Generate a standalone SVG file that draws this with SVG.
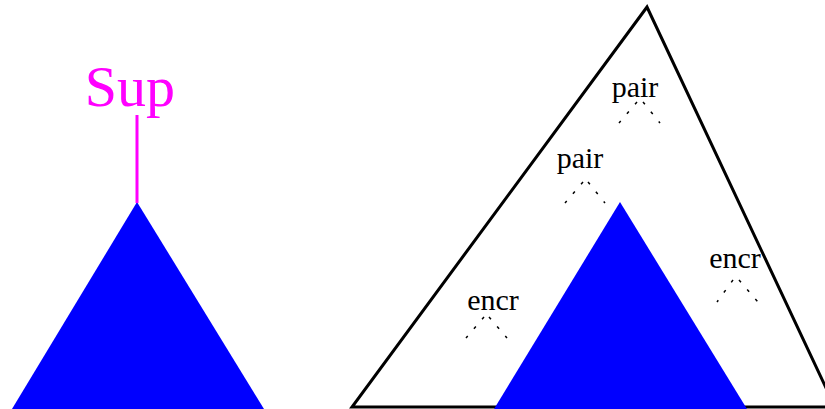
<svg xmlns="http://www.w3.org/2000/svg" width="825" height="409" viewBox="0 0 825 409">
<style>
.lbl{font-family:"Liberation Serif","Times New Roman",serif;font-size:30px;fill:#000;text-anchor:middle}
.dot{fill:none;stroke:#000;stroke-width:1.5;stroke-dasharray:3 9.5}
.blue{fill:#0000ff}
</style>
<rect width="825" height="409" fill="#fff"/>
<g id="left-tree">
<polygon class="blue" points="137,202 12,409 264,409"/>
<line x1="137" y1="115" x2="137" y2="203" stroke="#ff00ff" stroke-width="3"/>
<text x="130" y="106" font-family="Liberation Serif, serif" font-size="58" fill="#ff00ff" text-anchor="middle">Sup</text>
</g>
<g id="big-triangle">
<polygon points="647,7 352,407 835,407" fill="none" stroke="#000" stroke-width="3" stroke-linejoin="miter"/>
</g>
<g id="inner-tree">
<polygon class="blue" points="620,202 494,409 747,409"/>
</g>
<g id="pair1">
<text class="lbl" x="635" y="97">pair</text>
<path class="dot" d="M637,102 L619,123 M643,102 L660,123"/>
</g>
<g id="pair2">
<text class="lbl" x="580" y="168">pair</text>
<path class="dot" d="M583,182 L565,203 M588,182 L605,203"/>
</g>
<g id="encr1">
<text class="lbl" x="493" y="310">encr</text>
<path class="dot" d="M484,317 L466,338 M489,317 L507,338"/>
</g>
<g id="encr2">
<text class="lbl" x="735" y="268">encr</text>
<path class="dot" d="M733,280 L717,302 M739,280 L758,302"/>
</g>
</svg>
